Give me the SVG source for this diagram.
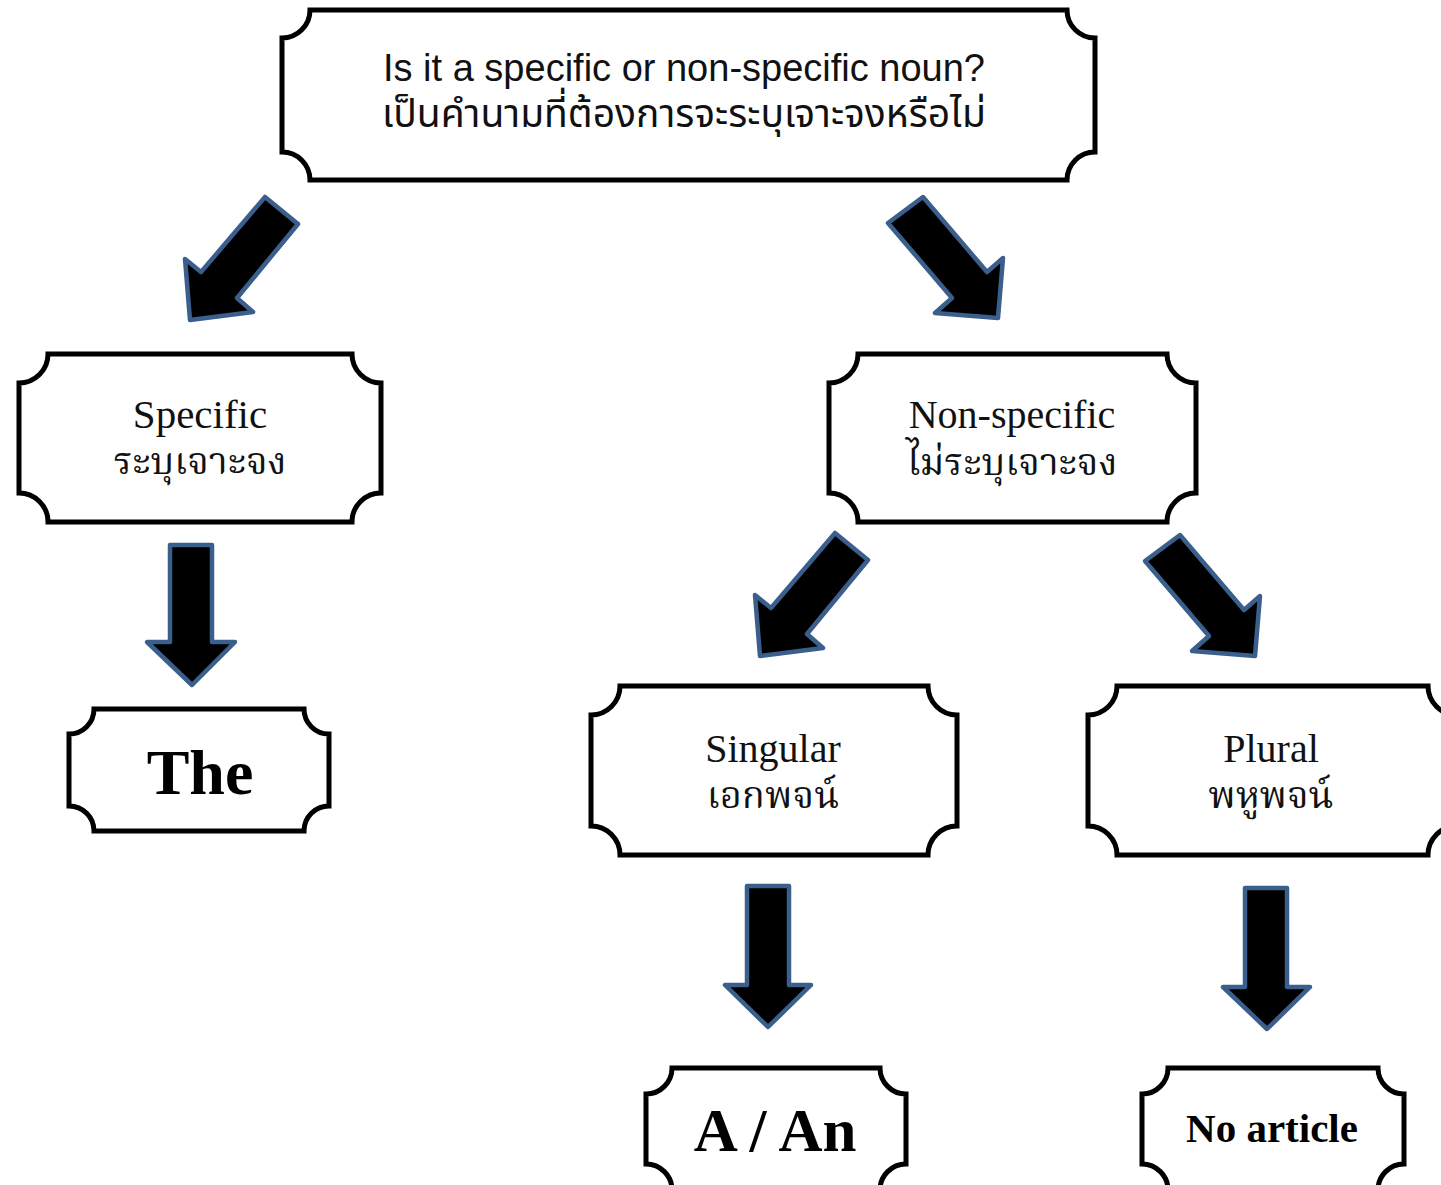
<svg xmlns="http://www.w3.org/2000/svg" width="1441" height="1185" viewBox="0 0 1441 1185">
<style>
.box{fill:#fff;stroke:#000;stroke-width:5}
.arr{fill:#000;stroke:#3b5f8c;stroke-width:4.5;stroke-linejoin:round}
.sans{font-family:"Liberation Sans","Noto Sans Thai","Noto Sans",sans-serif;fill:#111;text-anchor:middle}
.ser{font-family:"Liberation Serif","Noto Serif Thai","Noto Sans Thai",serif;fill:#111;text-anchor:middle}
.bold{font-family:"Liberation Serif",serif;font-weight:bold;fill:#000;text-anchor:middle}
</style>
<rect width="1441" height="1185" fill="#fff"/>
<g id="node-question">
<path class="box" d="M310,10 H1067 A28,28 0 0 0 1095,38 V152 A28,28 0 0 0 1067,180 H310 A28,28 0 0 0 282,152 V38 A28,28 0 0 0 310,10 Z"/>
<text class="sans" x="684" y="81" font-size="38">Is it a specific or non-specific noun?</text>
<text class="sans" x="684" y="127" font-size="39">เป็นคำนามที่ต้องการจะระบุเจาะจงหรือไม่</text>
</g>
<g id="node-specific">
<path class="box" d="M48,354 H352 A29,29 0 0 0 381,383 V493 A29,29 0 0 0 352,522 H48 A29,29 0 0 0 19,493 V383 A29,29 0 0 0 48,354 Z"/>
<text class="ser" x="200" y="428" font-size="41">Specific</text>
<text class="ser" x="200" y="474" font-size="38">ระบุเจาะจง</text>
</g>
<g id="node-nonspecific">
<path class="box" d="M858,354 H1167 A29,29 0 0 0 1196,383 V493 A29,29 0 0 0 1167,522 H858 A29,29 0 0 0 829,493 V383 A29,29 0 0 0 858,354 Z"/>
<text class="ser" x="1012" y="428" font-size="40">Non-specific</text>
<text class="ser" x="1012" y="475" font-size="38">ไม่ระบุเจาะจง</text>
</g>
<g id="node-the">
<path class="box" d="M94,709 H304 A25,25 0 0 0 329,734 V806 A25,25 0 0 0 304,831 H94 A25,25 0 0 0 69,806 V734 A25,25 0 0 0 94,709 Z"/>
<text class="bold" x="200" y="794" font-size="64">The</text>
</g>
<g id="node-singular">
<path class="box" d="M620,686 H928 A29,29 0 0 0 957,715 V826 A29,29 0 0 0 928,855 H620 A29,29 0 0 0 591,826 V715 A29,29 0 0 0 620,686 Z"/>
<text class="ser" x="773" y="762" font-size="40">Singular</text>
<text class="ser" x="773" y="808" font-size="38">เอกพจน์</text>
</g>
<g id="node-plural">
<path class="box" d="M1117,686 H1428 A29,29 0 0 0 1457,715 V826 A29,29 0 0 0 1428,855 H1117 A29,29 0 0 0 1088,826 V715 A29,29 0 0 0 1117,686 Z"/>
<text class="ser" x="1271" y="762" font-size="40">Plural</text>
<text class="ser" x="1271" y="808" font-size="38">พหูพจน์</text>
</g>
<g id="node-aan">
<path class="box" d="M672,1068 H880 A26,26 0 0 0 906,1094 V1164 A26,26 0 0 0 880,1190 H672 A26,26 0 0 0 646,1164 V1094 A26,26 0 0 0 672,1068 Z"/>
<text class="bold" x="775" y="1151" font-size="61">A / An</text>
</g>
<g id="node-noarticle">
<path class="box" d="M1168,1068 H1378 A26,26 0 0 0 1404,1094 V1164 A26,26 0 0 0 1378,1190 H1168 A26,26 0 0 0 1142,1164 V1094 A26,26 0 0 0 1168,1068 Z"/>
<text class="bold" x="1272" y="1142" font-size="41">No article</text>
</g>
<g id="connectors">
<polygon class="arr" points="265,197 298,224 237,298 253,312 190,320 185,259 201,272"/>
<polygon class="arr" points="923,197 888,223 952,298 935,313 998,318 1003,258 987,272"/>
<polygon class="arr" points="835,533 868,560 807,634 823,648 760,656 755,595 771,608"/>
<polygon class="arr" points="1180,535 1145,561 1209,636 1192,651 1255,656 1260,596 1244,610"/>
<polygon class="arr" points="170,545 212,545 212,642 235,642 192,685 147,642 170,642"/>
<polygon class="arr" points="747,886 789,886 789,985 811,985 768,1027 725,985 747,985"/>
<polygon class="arr" points="1245,888 1287,888 1287,987 1310,987 1267,1029 1223,987 1245,987"/>
</g>
</svg>
